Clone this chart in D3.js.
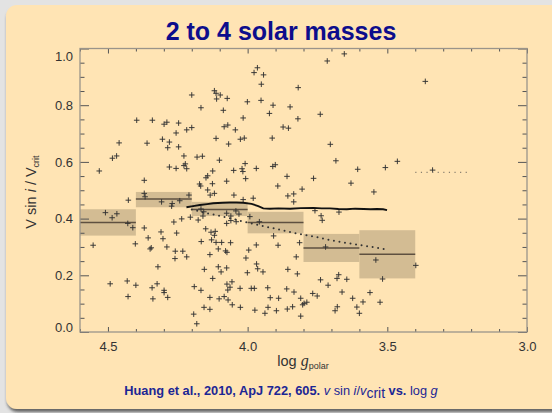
<!DOCTYPE html>
<html>
<head>
<meta charset="utf-8">
<script src="https://cdn.jsdelivr.net/npm/d3@7"></script>
<style>
  body { margin: 0; background: #e3e3e3; }
  svg { display: block; font-family: "Liberation Sans", Arial, Helvetica, sans-serif; }
</style>
</head>
<body>
<svg id="chart" width="552" height="413"></svg>
<script>
// Individual stars: [log g_polar, v sin i / v_crit]
const stars = [
  [4.200,0.836],[4.119,0.851],[4.113,0.842],[4.098,0.836],[4.111,0.822],[4.073,0.824],
  [4.167,0.791],[4.087,0.782],[4.397,0.747],[4.341,0.747],[4.299,0.733],[4.289,0.740],
  [4.247,0.737],[4.218,0.713],[4.200,0.721],[4.256,0.702],[4.084,0.724],[4.071,0.730],
  [4.305,0.680],[4.280,0.670],[4.286,0.650],[4.247,0.653],[4.113,0.683],[4.068,0.663],
  [4.460,0.667],[4.360,0.666],[4.484,0.613],[4.469,0.621],[4.228,0.621],[4.181,0.617],
  [4.162,0.620],[4.101,0.606],[4.531,0.568],[4.280,0.582],[4.256,0.577],[4.228,0.587],
  [4.218,0.576],[4.223,0.593],[4.125,0.568],[4.370,0.535],[4.149,0.544],[4.143,0.551],
  [4.126,0.523],[4.172,0.522],[4.168,0.515],[4.075,0.532],[3.654,0.981],[3.715,0.956],
  [3.965,0.932],[3.977,0.915],[3.943,0.907],[3.951,0.874],[3.819,0.862],[4.001,0.812],
  [3.952,0.817],[3.909,0.800],[3.848,0.794],[3.922,0.771],[3.740,0.768],[4.016,0.755],
  [3.820,0.752],[4.044,0.713],[3.873,0.723],[3.854,0.719],[4.026,0.680],[4.012,0.684],
  [3.912,0.684],[3.704,0.662],[3.684,0.604],[3.464,0.602],[4.009,0.594],[4.050,0.570],
  [4.020,0.576],[4.017,0.566],[3.969,0.577],[3.910,0.584],[3.901,0.590],[3.606,0.574],
  [3.507,0.580],[4.007,0.541],[3.859,0.549],[3.764,0.542],[3.892,0.515],[3.805,0.504],
  [3.630,0.525],[3.364,0.884],[3.338,0.571],[4.370,0.489],[4.367,0.477],[4.427,0.465],
  [4.308,0.459],[4.270,0.453],[4.272,0.444],[4.243,0.463],[4.210,0.483],[4.143,0.501],
  [4.134,0.483],[4.119,0.489],[4.509,0.421],[4.485,0.403],[4.468,0.417],[4.429,0.383],
  [4.411,0.368],[4.553,0.306],[4.402,0.311],[4.370,0.367],[4.356,0.332],[4.349,0.293],
  [4.345,0.297],[4.310,0.353],[4.303,0.329],[4.289,0.300],[4.264,0.388],[4.236,0.399],
  [4.254,0.349],[4.259,0.285],[4.260,0.259],[4.232,0.285],[4.218,0.265],[4.205,0.405],
  [4.177,0.395],[4.167,0.434],[4.157,0.424],[4.160,0.409],[4.150,0.364],[4.166,0.319],
  [4.131,0.352],[4.116,0.355],[4.119,0.341],[4.129,0.325],[4.113,0.316],[4.093,0.316],
  [4.135,0.273],[4.155,0.221],[4.105,0.293],[4.079,0.286],[4.075,0.383],[4.321,0.230],
  [4.492,0.170],[4.431,0.180],[4.400,0.165],[4.342,0.156],[4.324,0.170],[4.299,0.147],
  [4.299,0.139],[4.286,0.122],[4.339,0.117],[4.428,0.125],[4.191,0.160],[4.167,0.147],
  [4.135,0.122],[4.156,0.087],[4.135,0.080],[4.193,0.063],[4.182,0.029],[4.105,0.230],
  [4.095,0.212],[4.125,0.189],[4.074,0.169],[4.071,0.148],[4.102,0.117],[4.084,0.125],
  [4.070,0.113],[3.548,0.494],[4.049,0.483],[3.980,0.472],[4.016,0.467],[3.856,0.480],
  [3.835,0.487],[3.835,0.459],[4.075,0.419],[4.060,0.409],[4.042,0.427],[4.031,0.416],
  [4.041,0.389],[4.060,0.393],[3.992,0.407],[3.958,0.389],[3.759,0.428],[3.737,0.410],
  [3.733,0.394],[3.673,0.423],[4.061,0.315],[4.074,0.281],[3.907,0.339],[3.969,0.307],
  [3.891,0.306],[3.814,0.315],[3.996,0.289],[4.006,0.261],[3.826,0.265],[3.721,0.300],
  [3.541,0.254],[4.075,0.226],[3.968,0.240],[3.964,0.223],[3.945,0.212],[4.001,0.209],
  [3.856,0.221],[3.822,0.205],[4.056,0.177],[4.063,0.158],[4.027,0.154],[3.987,0.154],
  [3.976,0.154],[3.928,0.156],[3.860,0.152],[3.739,0.184],[3.712,0.165],[3.680,0.189],
  [3.674,0.202],[3.645,0.186],[3.517,0.187],[3.834,0.141],[3.767,0.136],[3.751,0.127],
  [3.662,0.141],[3.562,0.139],[4.055,0.096],[4.026,0.087],[3.919,0.121],[3.889,0.119],
  [3.810,0.119],[3.798,0.101],[3.788,0.105],[3.803,0.096],[3.624,0.119],[3.587,0.106],
  [3.526,0.105],[3.974,0.077],[3.938,0.066],[3.927,0.087],[3.897,0.075],[3.858,0.081],
  [3.839,0.089],[3.810,0.056],[3.679,0.089],[3.687,0.075],[3.609,0.088],[3.600,0.066],
  [3.398,0.235]
];

// Binned statistics: log g bin edges, spread and median of each bin
const binHigh   = [4.6, 4.4, 4.2, 4.0, 3.8, 3.6];
const binLow    = [4.4, 4.2, 4.0, 3.8, 3.6, 3.4];
const binTop    = [0.433, 0.494, 0.459, 0.424, 0.346, 0.359];
const binBottom = [0.340, 0.440, 0.409, 0.348, 0.247, 0.189];
const binMedian = [0.386, 0.469, 0.432, 0.386, 0.296, 0.274];

// Model track (solid)
const trackLogg = [4.219,4.190,4.171,4.145,4.123,4.090,4.064,4.040,4.016,3.986,3.962,3.944,3.920,
                   3.890,3.848,3.810,3.765,3.735,3.705,3.675,3.645,3.615,3.585,3.560,3.537,3.515,3.501];
const trackV    = [0.440,0.445,0.448,0.451,0.454,0.456,0.457,0.457,0.456,0.452,0.444,0.436,0.435,
                   0.436,0.435,0.437,0.438,0.436,0.436,0.434,0.433,0.435,0.434,0.433,0.434,0.433,0.430];

// Model track (dotted)
const dotLogg = [4.20,4.15,4.10,4.05,4.00,3.95,3.90,3.85,3.80,3.75,3.70,3.65,3.60,3.55,3.50];
const dotV    = [0.432,0.420,0.410,0.398,0.386,0.375,0.364,0.353,0.343,0.334,0.323,0.315,0.307,0.299,0.290];

// Short reference level (faint dotted)
const refLogg = [3.40, 3.20];
const refV    = [0.563, 0.563];

// Axis ticks
const xMajor = [4.5, 4.0, 3.5, 3.0];
const xMinor = d3.range(46, 29, -1).map(d => d / 10).filter(d => !xMajor.includes(d));
const yMajor = [0.0, 0.2, 0.4, 0.6, 0.8, 1.0];
const yMinor = d3.range(0, 21).map(d => d / 20).filter(d => !yMajor.some(m => Math.abs(m - d) < 1e-9));

const svg = d3.select("#chart");

// Panel with drop shadow
const defs = svg.append("defs");
const flt = defs.append("filter").attr("id", "shadow")
  .attr("x", "-5%").attr("y", "-5%").attr("width", "115%").attr("height", "115%");
flt.append("feDropShadow").attr("dx", 1).attr("dy", 3).attr("stdDeviation", 1.6)
  .attr("flood-color", "#3a3a3a").attr("flood-opacity", 0.75);

svg.append("rect").attr("width", 552).attr("height", 413).attr("fill", "#e3e3e3");
svg.append("rect").attr("x", 6).attr("y", 5).attr("width", 580).attr("height", 404)
  .attr("rx", 11).attr("fill", "#ffe4b4").attr("filter", "url(#shadow)");

const x = d3.scaleLinear().domain([4.6, 3.0]).range([80, 527]);
const y = d3.scaleLinear().domain([0, 1]).range([332, 48.5]);

// Title
svg.append("text").attr("x", 281).attr("y", 39.5).attr("text-anchor", "middle")
  .attr("font-size", 25).attr("font-weight", "bold").attr("fill", "#0d0d8c")
  .text("2 to 4 solar masses");

// Binned boxes
const bins = binHigh.map((h, i) => ({ hi: h, lo: binLow[i], top: binTop[i], bot: binBottom[i], med: binMedian[i] }));
svg.append("g").selectAll("rect").data(bins).join("rect")
  .attr("x", d => x(d.hi)).attr("width", d => x(d.lo) - x(d.hi))
  .attr("y", d => y(d.top)).attr("height", d => y(d.bot) - y(d.top))
  .attr("fill", "#d3bc93");
svg.append("g").selectAll("line").data(bins).join("line")
  .attr("x1", d => x(d.hi)).attr("x2", d => x(d.lo))
  .attr("y1", d => y(d.med)).attr("y2", d => y(d.med))
  .attr("stroke", "#5e5040").attr("stroke-width", 1.5);

// Stars
svg.append("g").selectAll("path").data(stars).join("path")
  .attr("transform", d => `translate(${x(d[0])},${y(d[1])})`)
  .attr("d", "M-2.8,0H2.8M0,-2.8V2.8")
  .attr("stroke", "#333").attr("stroke-width", 0.95).attr("fill", "none");

// Tracks
const line = d3.line().x(d => x(d[0])).y(d => y(d[1]));
svg.append("path").datum(trackLogg.map((g, i) => [g, trackV[i]]))
  .attr("d", line).attr("fill", "none").attr("stroke", "#111").attr("stroke-width", 1.9);
svg.append("path").datum(dotLogg.map((g, i) => [g, dotV[i]]))
  .attr("d", line).attr("fill", "none").attr("stroke", "#333").attr("stroke-width", 2)
  .attr("stroke-linecap", "round").attr("stroke-dasharray", "0 5.6");
svg.append("path").datum(refLogg.map((g, i) => [g, refV[i]]))
  .attr("d", line).attr("fill", "none").attr("stroke", "#8a8070").attr("stroke-width", 1.2)
  .attr("stroke-dasharray", "1.2 4.4");

// Axes: ticks point inward on all four sides
const tickColor = "#555";
function styleAxis(g) {
  g.select(".domain").remove();
  g.selectAll(".tick line").attr("stroke", tickColor);
  g.selectAll(".tick text").attr("fill", "#333").attr("font-size", 13)
    .attr("font-family", "'Liberation Sans', Arial, sans-serif");
}
const fmt = d3.format(".1f");
svg.append("g").attr("transform", "translate(0,332)")
  .call(d3.axisBottom(x).tickValues(xMajor).tickSize(-5).tickPadding(10).tickFormat(fmt)).call(styleAxis);
svg.append("g").attr("transform", "translate(0,332)")
  .call(d3.axisBottom(x).tickValues(xMinor).tickSize(-3).tickFormat("")).call(styleAxis);
svg.append("g").attr("transform", "translate(0,48.5)")
  .call(d3.axisTop(x).tickValues(xMajor).tickSize(-5).tickFormat("")).call(styleAxis);
svg.append("g").attr("transform", "translate(0,48.5)")
  .call(d3.axisTop(x).tickValues(xMinor).tickSize(-3).tickFormat("")).call(styleAxis);

const yAxisG = svg.append("g").attr("transform", "translate(80,0)")
  .call(d3.axisLeft(y).tickValues(yMajor).tickSize(-9).tickPadding(7).tickFormat(fmt)).call(styleAxis);
// end labels sit inside the frame
yAxisG.selectAll(".tick text").attr("dy", d => d === 1 ? "0.95em" : d === 0 ? "-0.05em" : "0.32em");
svg.append("g").attr("transform", "translate(80,0)")
  .call(d3.axisLeft(y).tickValues(yMinor).tickSize(-4.5).tickFormat("")).call(styleAxis);
svg.append("g").attr("transform", "translate(527,0)")
  .call(d3.axisRight(y).tickValues(yMajor).tickSize(-9).tickFormat("")).call(styleAxis);
svg.append("g").attr("transform", "translate(527,0)")
  .call(d3.axisRight(y).tickValues(yMinor).tickSize(-4.5).tickFormat("")).call(styleAxis);

// Frame
svg.append("rect").attr("x", 80).attr("y", 48.5).attr("width", 447).attr("height", 283.5)
  .attr("fill", "none").attr("stroke", "#9a948a").attr("stroke-width", 1.3);

// Axis titles
const xt = svg.append("text").attr("x", 303).attr("y", 366).attr("text-anchor", "middle")
  .attr("font-size", 14.5).attr("fill", "#333");
xt.append("tspan").text("log ");
xt.append("tspan").attr("font-style", "italic").attr("font-family", "'Liberation Serif', serif").attr("font-size", 16).text("g");
xt.append("tspan").attr("font-size", 9).attr("dy", 3).text("polar");

const yt = svg.append("text").attr("transform", "translate(36,192) rotate(-90)")
  .attr("text-anchor", "middle").attr("font-size", 14.5).attr("fill", "#333");
yt.append("tspan").text("V sin ");
yt.append("tspan").attr("font-style", "italic").text("i");
yt.append("tspan").text(" / V");
yt.append("tspan").attr("font-size", 9).attr("dy", 3).text("crit");

// Caption
const cap = svg.append("text").attr("x", 281).attr("y", 395).attr("text-anchor", "middle")
  .attr("font-size", 12.8).attr("fill", "#1c2694");
cap.append("tspan").attr("font-weight", "bold").text("Huang et al., 2010, ApJ 722, 605. ");
cap.append("tspan").attr("font-style", "italic").text("v");
cap.append("tspan").text(" sin ");
cap.append("tspan").attr("font-style", "italic").text("i");
cap.append("tspan").text("/");
cap.append("tspan").attr("font-style", "italic").text("v");
cap.append("tspan").attr("font-size", 14).attr("dy", 3).text("crit");
cap.append("tspan").attr("font-weight", "bold").attr("dy", -3).text(" vs. ");
cap.append("tspan").text("log ");
cap.append("tspan").attr("font-style", "italic").text("g");
</script>
</body>
</html>
